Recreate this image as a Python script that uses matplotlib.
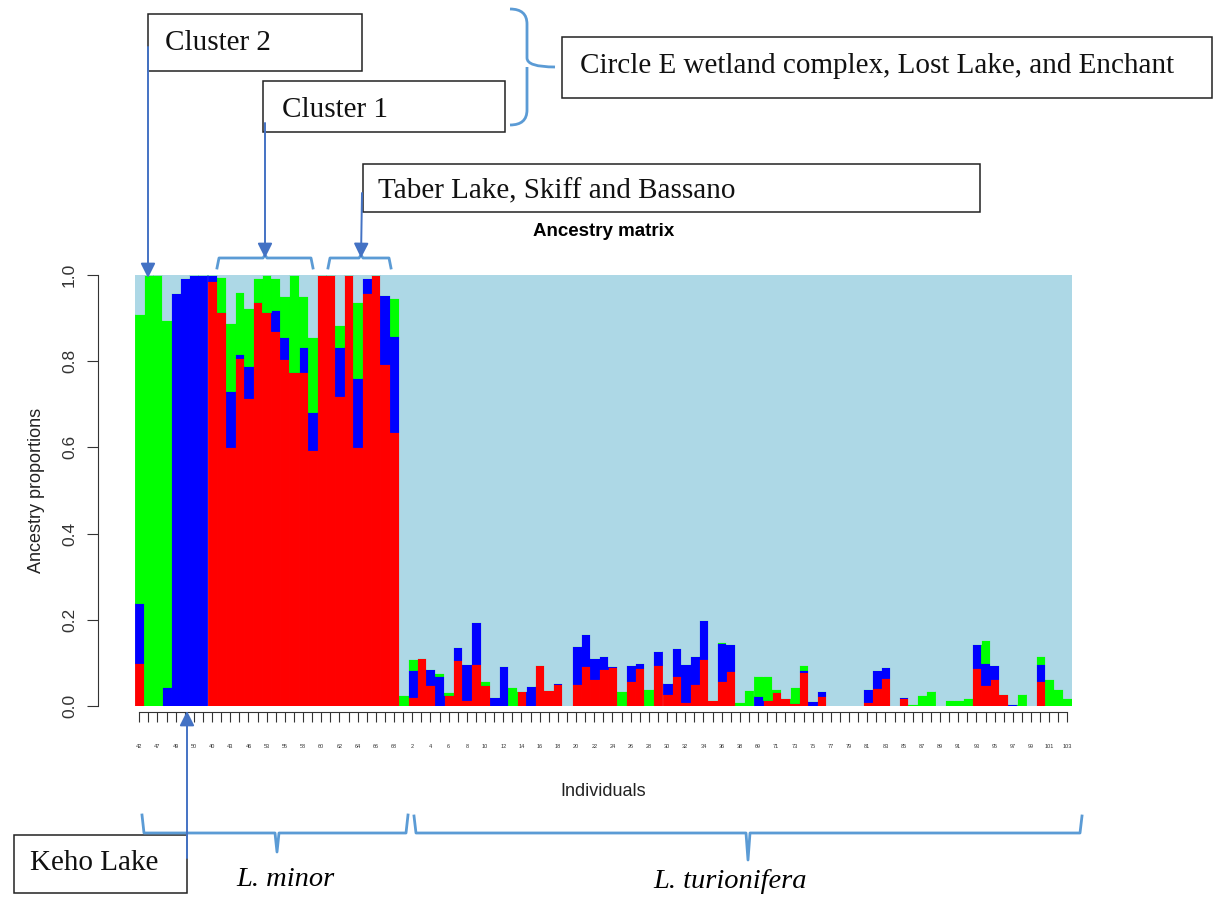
import matplotlib
matplotlib.use("Agg")
import matplotlib.pyplot as plt
import numpy as np
from matplotlib.patches import Rectangle, PathPatch
from matplotlib.path import Path

# individuals in plotting order (L. minor first, then L. turionifera)
individuals = [42, 45, 47, 48, 49, 41, 50, 44, 40, 51, 43, 52, 46, 54, 53,
               56, 55, 57, 58, 59, 60, 61, 62, 63, 64, 65, 66, 67, 68] + \
              list(range(1, 40)) + list(range(69, 104))

# ancestry proportions per individual (cluster red, blue, green; rest light blue)
red = [0.10, 0, 0, 0, 0, 0, 0, 0, 0.985, 0.914,
       0.600, 0.808, 0.714, 0.938, 0.914, 0.871, 0.806, 0.775, 0.775, 0.595,
       1.0, 1.0, 0.719, 1.0, 0.600, 0.958, 1.0, 0.794, 0.636, 0,
       0.02, 0.112, 0.048, 0, 0.026, 0.107, 0.015, 0.098, 0.049, 0,
       0, 0, 0.034, 0, 0.096, 0.038, 0.051, 0, 0.051, 0.093,
       0.063, 0.086, 0.091, 0, 0.057, 0.088, 0, 0.096, 0.029, 0.069,
       0.009, 0.052, 0.110, 0.013, 0.059, 0.082, 0, 0, 0, 0.015,
       0.032, 0.019, 0.007, 0.08, 0, 0.024, 0, 0, 0, 0,
       0.009, 0.042, 0.065, 0, 0.019, 0, 0, 0, 0, 0,
       0, 0, 0.088, 0.049, 0.063, 0.027, 0, 0, 0, 0.057,
       0, 0, 0]
blue = [0.14, 0, 0, 0.045, 0.958, 0.993, 1.0, 1.0, 0.015, 0,
        0.130, 0.008, 0.076, 0, 0, 0.048, 0.05, 0, 0.058, 0.086,
        0, 0, 0.114, 0, 0.161, 0.035, 0, 0.16, 0.222, 0,
        0.064, 0, 0.038, 0.069, 0, 0.031, 0.083, 0.098, 0, 0.02,
        0.093, 0, 0, 0.046, 0, 0, 0.003, 0, 0.089, 0.075,
        0.049, 0.029, 0.002, 0, 0.039, 0.012, 0, 0.031, 0.024, 0.066,
        0.089, 0.065, 0.09, 0, 0.088, 0.061, 0, 0, 0.023, 0,
        0, 0, 0, 0.004, 0.012, 0.011, 0, 0, 0, 0,
        0.03, 0.042, 0.025, 0, 0.003, 0, 0, 0, 0, 0,
        0, 0, 0.055, 0.051, 0.033, 0, 0.005, 0, 0, 0.041,
        0, 0, 0]
green = [0.67, 1.0, 1.0, 0.85, 0, 0, 0, 0, 0, 0.081,
         0.158, 0.144, 0.133, 0.056, 0.086, 0.075, 0.096, 0.225, 0.119, 0.175,
         0, 0, 0.05, 0, 0.177, 0, 0, 0, 0.088, 0.026,
         0.026, 0, 0, 0.007, 0.006, 0, 0, 0, 0.01, 0,
         0, 0.043, 0, 0, 0, 0, 0, 0, 0, 0,
         0, 0, 0, 0.035, 0, 0, 0.04, 0, 0, 0,
         0, 0, 0, 0, 0.002, 0, 0.009, 0.038, 0.046, 0.054,
         0.008, 0, 0.037, 0.012, 0, 0, 0, 0, 0, 0,
         0, 0, 0, 0, 0, 0.005, 0.026, 0.035, 0, 0.013,
         0.013, 0.019, 0, 0.052, 0, 0, 0, 0.029, 0, 0.019,
         0.063, 0.04, 0.019]

colors = ["#FF0000", "#0000FF", "#00FF00", "#ADD8E6"]

W, H = 1217, 898
fig = plt.figure(figsize=(W / 100, H / 100), dpi=100)
plt.rcParams["font.family"] = ["Liberation Sans", "DejaVu Sans"]

ax = fig.add_axes([134.7 / W, (H - 706) / H, (1072 - 134.7) / W, (706 - 275) / H])
ax.set_facecolor(colors[3])

n = len(individuals)
x = np.arange(n)
r = np.array(red)
b = np.array(blue)
g = np.array(green)
rest = np.clip(1 - r - b - g, 0, None)
bottom = np.zeros(n)
for vals, c in zip([r, b, g, rest], colors):
    ax.bar(x, vals, width=1.0, bottom=bottom, color=c, align="edge",
           edgecolor=c, linewidth=0.6)
    bottom += vals

ax.set_xlim(0, n)
ax.set_ylim(0, 1)
for s in ["top", "right"]:
    ax.spines[s].set_visible(False)
ax.spines["left"].set_position(("outward", 26.6))
ax.spines["left"].set_bounds(0, 1)
ax.spines["bottom"].set_position(("outward", 4.3))
ax.spines["bottom"].set_bounds(0.5, n - 0.5)
for s in ["left", "bottom"]:
    ax.spines[s].set_color("#333333")

ax.set_yticks([0, 0.2, 0.4, 0.6, 0.8, 1.0])
ax.set_yticklabels(["0.0", "0.2", "0.4", "0.6", "0.8", "1.0"], rotation=90,
                   va="center", fontsize=12.5, color="#333333")
ax.tick_params(axis="y", length=7.9, pad=7, color="#333333")
ax.set_xticks(x + 0.5)
ax.set_xticklabels([str(v) if i % 2 == 0 else "" for i, v in enumerate(individuals)],
                   fontsize=4, color="#333333")
ax.tick_params(axis="x", length=7.2, pad=16, color="#333333")
ax.set_ylabel("Ancestry proportions", fontsize=13, color="#222222", labelpad=12)
ax.set_xlabel("Individuals", fontsize=13, color="#222222", labelpad=24)
ax.set_title("Ancestry matrix", fontsize=13.5, fontweight="bold", pad=28)

# annotation layer in pixel coordinates
ov = fig.add_axes([0, 0, 1, 1], zorder=5)
ov.set_xlim(0, W)
ov.set_ylim(H, 0)
ov.axis("off")
ov.patch.set_alpha(0)

serif = ["Liberation Serif", "DejaVu Serif"]
boxes = [
    (148, 14, 214, 57, "Cluster 2", 165, 43),
    (263, 81, 242, 51, "Cluster 1", 282, 110),
    (562, 37, 650, 61, "Circle E wetland complex, Lost Lake, and Enchant", 580, 66),
    (363, 164, 617, 48, "Taber Lake, Skiff and Bassano", 378, 191),
    (14, 835, 173, 58, "Keho Lake", 30, 863),
]
for bx, by, bw, bh, txt, tx, ty in boxes:
    ov.add_patch(Rectangle((bx, by), bw, bh, facecolor="white", edgecolor="#222222", lw=1.1))
    ov.text(tx, ty, txt, family=serif, fontsize=21, va="center", ha="left", color="#111111")

arrow_c = "#4472C4"
for x0, y0, x1, y1 in [(148, 47, 148, 278), (265, 123, 265, 258),
                       (362, 193, 361, 258), (187, 858, 187, 711)]:
    ov.annotate("", xy=(x1, y1), xytext=(x0, y0),
                arrowprops=dict(arrowstyle="-|>", color=arrow_c, lw=1.4,
                                mutation_scale=22, shrinkA=0, shrinkB=0))

brace_c = "#5B9BD5"
def brace_h(x0, x1, xm, y_end, y_line, y_tip):
    pts = [(x0, y_end), (x0 + 2, y_line), (xm - 2, y_line), (xm, y_tip),
           (xm + 2, y_line), (x1 - 2, y_line), (x1, y_end)]
    ov.plot(*zip(*pts), color=brace_c, lw=2, solid_joinstyle="round")

brace_h(217, 313, 265, 268, 258, 255)
brace_h(328, 391, 361, 268, 258, 255)
brace_h(142, 408, 277, 815, 833, 852)
brace_h(414, 1082, 748, 816, 833, 860)

# vertical curly brace next to the Circle E box
verts = [(510, 9), (527, 9), (527, 24), (527, 58), (527, 67), (555, 67),
         (527, 67), (527, 76), (527, 110), (527, 125), (510, 125)]
codes = [Path.MOVETO, Path.CURVE3, Path.CURVE3, Path.LINETO, Path.CURVE3, Path.CURVE3,
         Path.MOVETO, Path.CURVE3, Path.LINETO, Path.CURVE3, Path.CURVE3]
ov.add_patch(PathPatch(Path(verts, codes), facecolor="none", edgecolor=brace_c, lw=2))

ov.text(285, 880, "L. minor", family=serif, style="italic", fontsize=20.5, ha="center", va="center")
ov.text(730, 882, "L. turionifera", family=serif, style="italic", fontsize=20.5, ha="center", va="center")

fig.savefig("out.png", dpi=100, facecolor="white")
